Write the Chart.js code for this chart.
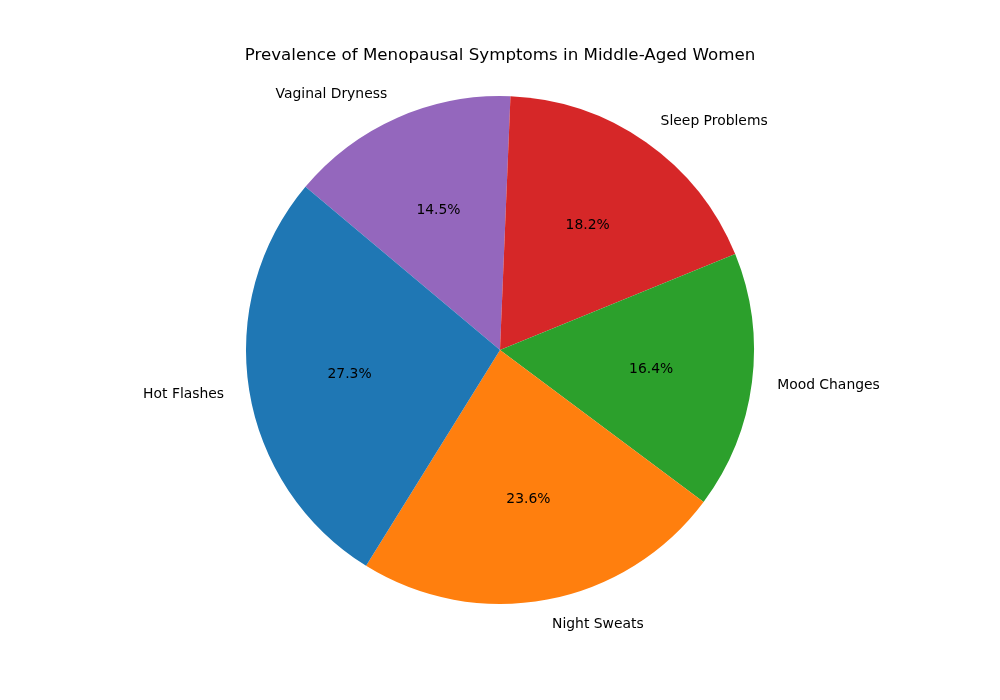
<!DOCTYPE html>
<html>
<head>
<meta charset="utf-8">
<script src="https://cdn.jsdelivr.net/npm/chart.js@4/dist/chart.umd.min.js"></script>
<style>
  html, body { margin: 0; padding: 0; background: #fff; }
  #wrap { width: 1000px; height: 700px; }
</style>
</head>
<body>
<div id="wrap"><canvas id="myChart" width="1000" height="700"></canvas></div>
<script>
const chartTitle = 'Prevalence of Menopausal Symptoms in Middle-Aged Women';
const symptoms = ['Hot Flashes', 'Night Sweats', 'Mood Changes', 'Sleep Problems', 'Vaginal Dryness'];
const prevalence = [30, 26, 18, 20, 16];
const sliceColors = ['#1f77b4', '#ff7f0e', '#2ca02c', '#d62728', '#9467bd'];

// matplotlib goes counter-clockwise from 140deg, Chart.js goes clockwise,
// so feed the slices in reverse order
const labelsRev = symptoms.slice().reverse();
const valuesRev = prevalence.slice().reverse();
const colorsRev = sliceColors.slice().reverse();
const total = prevalence.reduce((a, b) => a + b, 0);

const FONT = '"DejaVu Sans", sans-serif';

const pieText = {
    id: 'pieText',
    afterDraw(chart) {
        const ctx = chart.ctx;
        const meta = chart.getDatasetMeta(0);
        ctx.save();
        ctx.fillStyle = '#000';

        ctx.font = '16.7px ' + FONT;
        ctx.textAlign = 'center';
        ctx.textBaseline = 'middle';
        ctx.fillText(chartTitle, 500, 56);

        ctx.font = '13.9px ' + FONT;
        meta.data.forEach((arc, i) => {
            const p = arc.getProps(['x', 'y', 'startAngle', 'endAngle', 'outerRadius'], true);
            const mid = (p.startAngle + p.endAngle) / 2;
            const cx = Math.cos(mid), cy = Math.sin(mid);

            // percentage inside
            ctx.textAlign = 'center';
            ctx.fillText((valuesRev[i] / total * 100).toFixed(1) + '%',
                p.x + cx * p.outerRadius * 0.6, p.y + cy * p.outerRadius * 0.6);

            // label outside
            ctx.textAlign = cx < 0 ? 'right' : 'left';
            ctx.fillText(labelsRev[i],
                p.x + cx * p.outerRadius * 1.1, p.y + cy * p.outerRadius * 1.1);
        });
        ctx.restore();
    }
};

new Chart(document.getElementById('myChart'), {
    type: 'pie',
    data: {
        labels: labelsRev,
        datasets: [{
            data: valuesRev,
            backgroundColor: colorsRev,
            borderWidth: 0
        }]
    },
    options: {
        responsive: false,
        animation: false,
        rotation: -50,
        layout: { padding: { top: 96, bottom: 96, left: 0, right: 0 } },
        plugins: {
            legend: { display: false },
            tooltip: { enabled: false },
            title: { display: false }
        }
    },
    plugins: [pieText]
});
</script>
</body>
</html>
